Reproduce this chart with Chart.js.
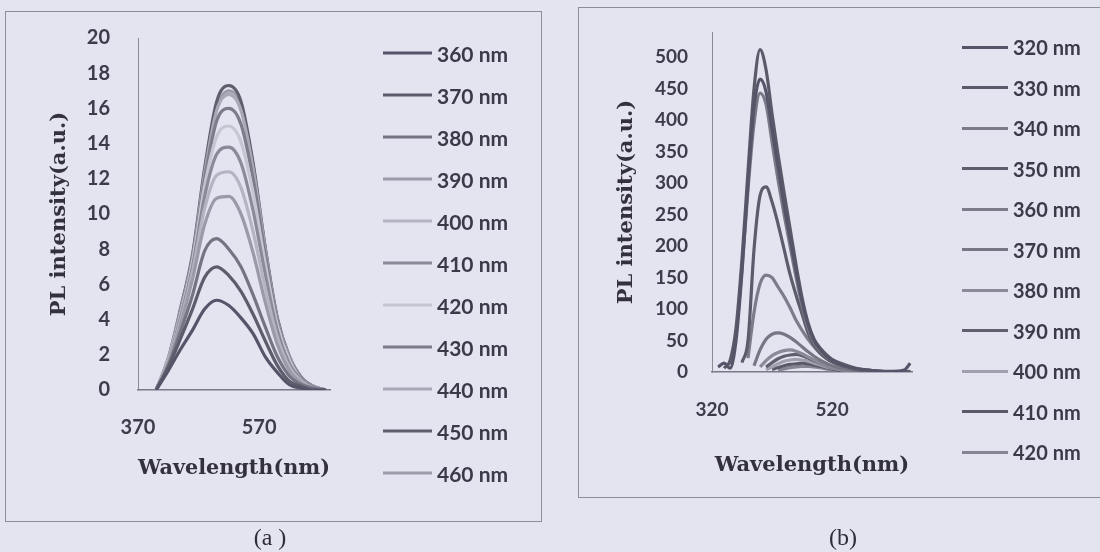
<!DOCTYPE html>
<html>
<head>
<meta charset="utf-8">
<script src="https://cdn.jsdelivr.net/npm/chart.js@4.4.1/dist/chart.umd.min.js"></script>
<style>
    body { margin: 0; width: 1100px; height: 552px; background: #e4e3f0; position: relative; overflow: hidden; font-family: Lato, sans-serif; }
    .frame { position: absolute; border: 1.5px solid #8d8c99; }
    #frameA { left: 5px; top: 11px; width: 535px; height: 509px; }
    #frameB { left: 578px; top: 7px; width: 560px; height: 489px; }
    canvas { position: absolute; top: 0; }
    #chartA { left: 0; }
    #chartB { left: 560px; }
    .legend { position: absolute; top: 0; margin: 0; padding: 0; list-style: none; }
    .legend li { position: absolute; left: 0; display: flex; align-items: center; font-weight: 700; color: #3b3a48; white-space: nowrap; transform: translateY(-50%); }
    .legend li span { display: inline-block; height: 3px; margin-right: 5px; }
    .caption { position: absolute; top: 524px; font-family: "Liberation Serif", serif; font-size: 24px; color: #2e2d38; transform: translateX(-50%); }
</style>
</head>
<body>
<div class="frame" id="frameA"></div>
<div class="frame" id="frameB"></div>
<canvas id="chartA" width="560" height="552"></canvas>
<canvas id="chartB" width="540" height="552"></canvas>
<ul class="legend" id="legendA" style="left:383px"></ul>
<ul class="legend" id="legendB" style="left:962px"></ul>
<div class="caption" style="left:270px">(a )</div>
<div class="caption" style="left:843px">(b)</div>

<script>
// (a) emission spectra, excitation 360-460 nm
const wavelengthA = [400, 420, 440, 460, 480, 500, 520, 540, 560, 580, 600, 620, 640, 660, 680];
const ticksXA = [370, 570];
const ticksYA = [0, 2, 4, 6, 8, 10, 12, 14, 16, 18, 20];
const namesA = ["360 nm", "370 nm", "380 nm", "390 nm", "400 nm", "410 nm", "420 nm", "430 nm", "440 nm", "450 nm", "460 nm"];
const a360 = [0, 1.1, 2.3, 3.4, 4.6, 5.1, 4.8, 4.1, 3.2, 1.9, 1.0, 0.3, 0.1, 0, 0];
const a370 = [0, 1.3, 2.9, 4.6, 6.4, 7.0, 6.5, 5.6, 4.3, 2.8, 1.4, 0.5, 0.2, 0, 0];
const a380 = [0, 1.4, 3.3, 5.4, 7.9, 8.6, 8.0, 7.0, 5.4, 3.6, 1.9, 0.8, 0.3, 0.1, 0];
const a390 = [0, 1.5, 3.7, 6.3, 9.4, 10.9, 11.0, 10.0, 7.8, 5.0, 2.6, 1.1, 0.4, 0.1, 0];
const a400 = [0, 1.6, 3.9, 6.7, 10.3, 12.2, 12.4, 11.5, 9.0, 5.8, 3.0, 1.3, 0.5, 0.1, 0];
const a410 = [0, 1.6, 4.1, 7.0, 11.0, 13.4, 13.8, 12.9, 10.2, 6.6, 3.4, 1.5, 0.6, 0.2, 0];
const a420 = [0, 1.7, 4.3, 7.3, 11.6, 14.4, 15.0, 14.1, 11.2, 7.2, 3.7, 1.7, 0.6, 0.2, 0];
const a430 = [0, 1.7, 4.4, 7.4, 12.0, 15.3, 16.0, 15.1, 12.0, 7.7, 3.9, 1.8, 0.7, 0.2, 0];
const a440 = [0, 1.8, 4.5, 7.5, 12.3, 15.9, 16.8, 15.9, 12.6, 8.0, 4.0, 1.9, 0.7, 0.2, 0];
const a450 = [0, 1.8, 4.6, 7.7, 12.6, 16.4, 17.3, 16.4, 12.9, 8.1, 4.1, 1.9, 0.7, 0.2, 0];
const a460 = [0, 1.7, 4.4, 7.5, 12.3, 16.0, 17.0, 16.2, 12.8, 8.1, 4.0, 1.9, 0.7, 0.2, 0];

// (b) emission spectra, excitation 320-420 nm
const wavelengthB = [330, 340, 350, 360, 370, 380, 390, 400, 410, 420, 430, 440, 450, 460, 470, 480, 490, 500, 510, 520, 540, 560, 580, 600, 620, 640, 650];
const ticksXB = [320, 520];
const ticksYB = [0, 50, 100, 150, 200, 250, 300, 350, 400, 450, 500];
const namesB = ["320 nm", "330 nm", "340 nm", "350 nm", "360 nm", "370 nm", "380 nm", "390 nm", "400 nm", "410 nm", "420 nm"];
const b320 = [8, 14, 6, 50, 160, 300, 420, 465, 445, 385, 325, 265, 212, 160, 112, 75, 50, 36, 26, 18, 10, 5, 3, 1, 1, 3, 14];
const b330 = [null, 6, 18, 70, 180, 320, 450, 512, 480, 410, 345, 285, 228, 170, 118, 78, 52, 38, 28, 20, 12, 6, 3, 1, 0, 0, 1];
const b340 = [null, null, 12, 60, 165, 290, 395, 443, 425, 365, 305, 250, 200, 150, 105, 70, 47, 34, 25, 18, 10, 5, 3, 1, 0, 0, 0];
const b350 = [null, null, null, null, 15, 50, 195, 280, 294, 270, 235, 195, 155, 122, 92, 62, 42, 30, 22, 16, 9, 4, 2, 1, 0, 0, 0];
const b360 = [null, null, null, null, null, 22, 95, 140, 154, 150, 135, 120, 102, 82, 66, 52, 40, 30, 22, 16, 9, 4, 2, 1, 0, 0, 0];
const b370 = [null, null, null, null, null, null, 10, 35, 52, 60, 62, 60, 55, 48, 40, 32, 25, 19, 14, 10, 5, 2, 1, 0, 0, 0, 0];
const b380 = [null, null, null, null, null, null, null, 8, 18, 26, 31, 34, 35, 33, 29, 24, 19, 14, 10, 7, 3, 1, 0, 0, 0, 0, 0];
const b390 = [null, null, null, null, null, null, null, null, 8, 15, 21, 25, 27, 28, 26, 22, 18, 14, 10, 7, 3, 1, 0, 0, 0, 0, 0];
const b400 = [null, null, null, null, null, null, null, null, 4, 8, 13, 17, 19, 20, 19, 17, 14, 11, 8, 6, 3, 1, 0, 0, 0, 0, 0];
const b410 = [null, null, null, null, null, null, null, null, null, 4, 7, 10, 12, 13, 14, 13, 11, 9, 7, 5, 2, 1, 0, 0, 0, 0, 0];
const b420 = [null, null, null, null, null, null, null, null, null, null, 3, 5, 7, 8, 9, 9, 8, 7, 5, 4, 2, 1, 0, 0, 0, 0, 0];

const coloursA = ["#55556a", "#5c5c6c", "#747482", "#9a9aa8", "#b4b4c2", "#8a8a98", "#c6c6d2", "#7c7c8a", "#a8a8b6", "#5e5e6c", "#9c9caa"];
const coloursB = ["#55556a", "#5a5a6a", "#7a7a88", "#5c5c6c", "#7c7c8a", "#767684", "#8a8a98", "#5f5f6e", "#a0a0ae", "#5a5a68", "#858593"];

const textColour = "#3d3c4a";

function montarPainel(idCanvas, x, nomes, series, cores, g) {
    const ctx = document.getElementById(idCanvas).getContext("2d");

    return new Chart(ctx, {
        type: 'line',
        data: {
            datasets: series.map((s, i) => ({
                label: nomes[i],
                data: x.map((w, k) => ({ x: w, y: s[k] })),
                borderColor: cores[i],
                backgroundColor: cores[i],
                borderWidth: 3.2,
                pointRadius: 0,
                cubicInterpolationMode: 'monotone',
                fill: false
            }))
        },
        options: {
            responsive: false,
            animation: false,
            events: [],
            layout: { padding: g.pad },
            plugins: { legend: { display: false }, tooltip: { enabled: false } },
            scales: {
                x: {
                    type: 'linear',
                    min: g.xMin,
                    max: g.xMax,
                    grid: { display: false, drawTicks: false },
                    border: { color: '#7a7986', width: 1.5 },
                    ticks: { padding: g.xPad, color: textColour, font: { family: 'Lato', weight: 'bold', size: g.tickSize } },
                    afterBuildTicks: s => { s.ticks = g.xTicks.map(v => ({ value: v })); },
                    afterFit: s => { s.height = g.xH; s.paddingLeft = 0; s.paddingRight = 0; },
                    title: {
                        display: true, text: 'Wavelength(nm)', color: '#32313c',
                        font: { family: 'DejaVu Serif', weight: 'bold', size: 21 }, padding: { top: 4, bottom: 4 }
                    }
                },
                y: {
                    min: 0,
                    max: g.yMax,
                    grid: { display: false, drawTicks: false },
                    border: { color: '#8a8996', width: 1 },
                    ticks: { padding: g.yPad, color: textColour, font: { family: 'Lato', weight: 'bold', size: g.tickSize } },
                    afterBuildTicks: s => { s.ticks = g.yTicks.map(v => ({ value: v })); },
                    afterFit: s => { s.width = g.yW; s.paddingTop = 0; s.paddingBottom = 0; },
                    title: {
                        display: true, text: 'PL intensity(a.u.)', color: '#32313c',
                        font: { family: 'DejaVu Serif', weight: 'bold', size: 21 }, padding: { top: 4, bottom: 4 }
                    }
                }
            }
        }
    });
}

function popularLegenda(grafico, idElemento, topo, passo, larguraLinha, tamanho) {
    const ul = document.getElementById(idElemento);
    ul.innerHTML = "";
    grafico.data.datasets.forEach((ds, i) => {
        const li = document.createElement("li");
        li.style.top = (topo + passo * i) + "px";
        li.style.fontSize = tamanho + "px";
        const linha = document.createElement("span");
        linha.style.width = larguraLinha + "px";
        linha.style.background = ds.borderColor;
        li.appendChild(linha);
        li.appendChild(document.createTextNode(ds.label));
        ul.appendChild(li);
    });
}

const graficoA = montarPainel("chartA", wavelengthA, namesA,
    [a360, a370, a380, a390, a400, a410, a420, a430, a440, a450, a460], coloursA, {
        pad: { left: 43, top: 38, right: 230, bottom: 67 },
        xMin: 370, xMax: 687, xTicks: ticksXA, yMax: 20, yTicks: ticksYA,
        xH: 95, yW: 95, xPad: 26, yPad: 28, tickSize: 20
    });

const graficoB = montarPainel("chartB", wavelengthB, namesB,
    [b320, b330, b340, b350, b360, b370, b380, b390, b400, b410, b420], coloursB, {
        pad: { left: 50, top: 32, right: 188, bottom: 70 },
        xMin: 320, xMax: 653, xTicks: ticksXB, yMax: 540, yTicks: ticksYB,
        xH: 110, yW: 102, xPad: 26, yPad: 24, tickSize: 19
    });

popularLegenda(graficoA, "legendA", 53, 42, 49, 21);
popularLegenda(graficoB, "legendB", 47, 40.5, 46, 20);
</script>
</body>
</html>
